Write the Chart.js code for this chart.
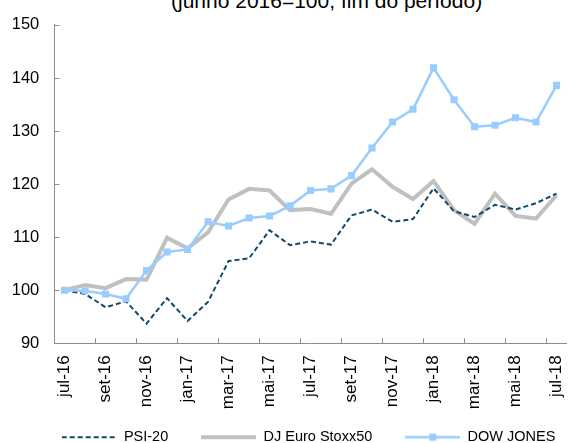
<!DOCTYPE html>
<html>
<head>
<meta charset="utf-8">
<script src="https://cdn.jsdelivr.net/npm/chart.js@4"></script>
<style>
  html, body { margin: 0; padding: 0; background: #fff; overflow: hidden; }
  #wrap { position: relative; width: 587px; height: 443px; overflow: hidden; }
  #title {
    position: absolute; left: 171px; top: -10.5px;
    font: 21px "Liberation Sans", Arial, sans-serif; line-height: 21px;
    color: #000; white-space: nowrap;
  }
  canvas { position: absolute; left: 0; top: 0; }
</style>
</head>
<body>
<div id="wrap">
  <div id="title">(junho 2016=100, fim do período)</div>
  <canvas id="chart" width="589" height="443"></canvas>
</div>
<script>
// Data (jun 2016 = 100, end of period)
const months = ['jul-16', 'ago-16', 'set-16', 'out-16', 'nov-16', 'dez-16', 'jan-17', 'fev-17', 'mar-17',
  'abr-17', 'mai-17', 'jun-17', 'jul-17', 'ago-17', 'set-17', 'out-17', 'nov-17', 'dez-17', 'jan-18',
  'fev-18', 'mar-18', 'abr-18', 'mai-18', 'jun-18', 'jul-18'];
const psi20 = [100, 99.3, 96.8, 97.9, 93.7, 98.5, 94.2, 97.8, 105.5, 106.0, 111.3, 108.5, 109.2,
  108.6, 114.1, 115.2, 112.9, 113.4, 119.2, 114.9, 113.8, 116.1, 115.2, 116.4, 118.2];
const stoxx50 = [100, 101.0, 100.4, 102.1, 102.0, 109.9, 107.9, 110.9, 117.1, 119.1, 118.8, 115.1, 115.3,
  114.4, 120.1, 122.8, 119.5, 117.2, 120.6, 115.1, 112.5, 118.2, 114.0, 113.5, 117.9];
const dowJones = [100, 99.9, 99.3, 98.4, 103.7, 107.2, 107.7, 112.9, 112.1, 113.6, 114.0, 115.9, 118.8,
  119.1, 121.6, 126.8, 131.7, 134.1, 141.9, 135.9, 130.8, 131.1, 132.5, 131.7, 138.6];
const yTicks = [90, 100, 110, 120, 130, 140, 150];

const FONT = '"Liberation Sans", Arial, sans-serif';
const axisColor = '#8c8c8c';
const navy = '#0f4a6c';
const grey = '#c0c0c0';
const blue = '#99ccff';

// small canvases used as legend samples
function legendSample(color, width, dash, marker) {
  const c = document.createElement('canvas');
  c.width = 55; c.height = 10;
  const g = c.getContext('2d');
  g.strokeStyle = color;
  g.lineWidth = width;
  g.setLineDash(dash);
  g.beginPath();
  g.moveTo(0, 5);
  g.lineTo(55, 5);
  g.stroke();
  if (marker) {
    g.fillStyle = color;
    g.fillRect(24, 1.5, 7, 7);
  }
  return c;
}

// inward tick marks like the original
const innerTicks = {
  id: 'innerTicks',
  beforeDatasetsDraw(chart) {
    const { ctx, scales: { x, y } } = chart;
    ctx.save();
    ctx.strokeStyle = axisColor;
    ctx.lineWidth = 1;
    ctx.beginPath();
    yTicks.forEach(v => {
      const py = Math.round(y.getPixelForValue(v)) + 0.5;
      ctx.moveTo(x.left, py);
      ctx.lineTo(x.left + 5, py);
    });
    for (let i = 2; i < months.length; i += 2) {
      const px = Math.round((x.getPixelForValue(i - 1) + x.getPixelForValue(i)) / 2) + 0.5;
      ctx.moveTo(px, y.bottom);
      ctx.lineTo(px, y.bottom - 5);
    }
    ctx.stroke();
    ctx.restore();
  }
};

// nudge the legend into place (legend clips to its own box, so grow it upward)
const legendShift = {
  id: 'legendShift',
  afterLayout(chart) {
    const lg = chart.legend;
    lg.left += 14; lg.right += 14;
    lg.top -= 21;
  }
};

new Chart(document.getElementById('chart'), {
  type: 'line',
  data: {
    labels: months,
    datasets: [
      {
        label: 'PSI-20', data: psi20, order: 1,
        borderColor: navy, borderWidth: 2, borderDash: [5, 3],
        pointRadius: 0, tension: 0, fill: false
      },
      {
        label: 'DJ Euro Stoxx50', data: stoxx50, order: 2,
        borderColor: grey, borderWidth: 4,
        pointRadius: 0, tension: 0, fill: false
      },
      {
        label: 'DOW JONES', data: dowJones, order: 0,
        borderColor: blue, backgroundColor: blue, borderWidth: 2.5,
        pointStyle: 'rect', pointRadius: 5, pointBorderWidth: 0,
        pointBackgroundColor: blue, tension: 0, fill: false
      }
    ]
  },
  options: {
    responsive: false,
    animation: false,
    layout: { padding: { top: 21.7, left: 0, right: 0, bottom: 0 } },
    plugins: {
      title: { display: false },
      tooltip: { enabled: false },
      legend: {
        position: 'bottom',
        maxHeight: 25,
        labels: {
          usePointStyle: true,
          pointStyleWidth: 55,
          padding: 33,
          color: '#000',
          font: { family: FONT, size: 14.5 },
          generateLabels: () => [
            { text: 'PSI-20', pointStyle: legendSample(navy, 2, [5, 3], false), datasetIndex: 0, fontColor: '#000', lineWidth: 0 },
            { text: 'DJ Euro Stoxx50', pointStyle: legendSample(grey, 4, [], false), datasetIndex: 1, fontColor: '#000', lineWidth: 0 },
            { text: 'DOW JONES', pointStyle: legendSample(blue, 2.5, [], true), datasetIndex: 2, fontColor: '#000', lineWidth: 0 }
          ]
        }
      }
    },
    scales: {
      x: {
        offset: true,
        grid: { display: false, drawTicks: false },
        border: { color: axisColor, width: 1 },
        ticks: {
          autoSkip: false,
          minRotation: 90,
          maxRotation: 90,
          padding: 12,
          color: '#000',
          font: { family: FONT, size: 17 },
          callback: (v, i) => (i % 2 === 0 ? months[i] : '')
        },
        afterFit: s => { s.height = 74.7; }
      },
      y: {
        min: 90,
        max: 150,
        afterBuildTicks: s => { s.ticks = yTicks.map(v => ({ value: v })); },
        grid: { display: false, drawTicks: false },
        border: { color: axisColor, width: 1 },
        ticks: {
          padding: 15,
          color: '#000',
          font: { family: FONT, size: 16.5 }
        },
        afterFit: s => { s.width = 54.3; }
      }
    }
  },
  plugins: [innerTicks, legendShift]
});
</script>
</body>
</html>
